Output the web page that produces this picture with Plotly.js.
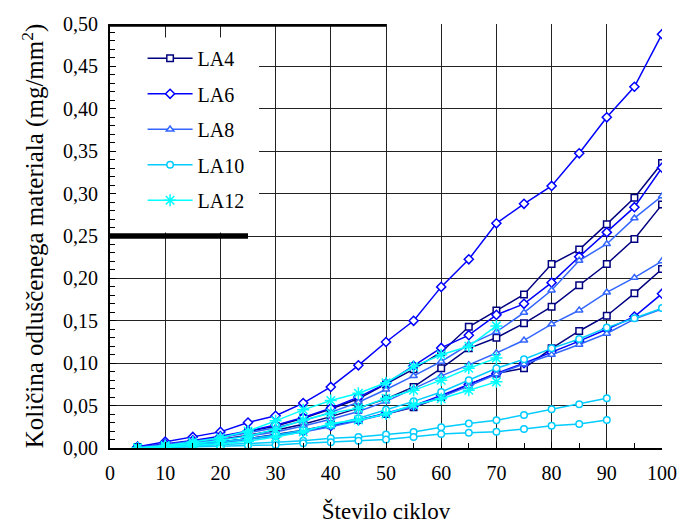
<!DOCTYPE html>
<html>
<head>
<meta charset="utf-8">
<script src="https://cdn.plot.ly/plotly-3.0.1.min.js"></script>
<style>html,body{margin:0;padding:0;background:#fff;}#chart{width:681px;height:524px;}</style>
</head>
<body>
<div id="chart"></div>
<script>
// cycles (x values)
const cycles = [5,10,15,20,25,30,35,40,45,50,55,60,65,70,75,80,85,90,95,100];
const cycles90 = cycles.slice(0,18);
const cycles70 = cycles.slice(0,14);

// LA4 (three specimens)
const LA4a = [0.001,0.004,0.008,0.013,0.019,0.026,0.035,0.046,0.058,0.075,0.093,0.113,0.143,0.162,0.181,0.217,0.234,0.264,0.295,0.336];
const LA4b = [0.0005,0.003,0.006,0.010,0.015,0.021,0.028,0.037,0.047,0.058,0.072,0.094,0.1175,0.130,0.147,0.1667,0.192,0.217,0.2465,0.287];
const LA4c = [0.0,0.002,0.004,0.007,0.011,0.016,0.021,0.027,0.033,0.040,0.048,0.060,0.075,0.088,0.094,0.1175,0.138,0.156,0.1824,0.211];
// LA6
const LA6a = [0.0015,0.0075,0.013,0.019,0.030,0.038,0.053,0.072,0.0975,0.125,0.150,0.190,0.2225,0.265,0.288,0.309,0.3475,0.390,0.426,0.488];
const LA6b = [0.001,0.005,0.009,0.014,0.020,0.027,0.036,0.047,0.060,0.076,0.097,0.118,0.133,0.157,0.170,0.195,0.2256,0.2543,0.284,0.3306];
const LA6c = [0.0,0.002,0.004,0.007,0.011,0.015,0.020,0.026,0.033,0.041,0.050,0.062,0.075,0.088,0.100,0.113,0.126,0.140,0.155,0.182];
// LA8
const LA8a = [0.001,0.004,0.008,0.012,0.018,0.024,0.032,0.042,0.054,0.069,0.085,0.102,0.122,0.137,0.1596,0.186,0.221,0.2406,0.271,0.297];
const LA8b = [0.0005,0.003,0.006,0.010,0.014,0.019,0.026,0.034,0.043,0.055,0.070,0.085,0.098,0.112,0.127,0.146,0.1624,0.1836,0.2008,0.2205];
const LA8c = [0.0,0.002,0.004,0.006,0.010,0.014,0.019,0.025,0.032,0.040,0.049,0.060,0.073,0.087,0.099,0.110,0.122,0.135,0.152,0.164];
// LA10
const LA10a = [0.0,0.002,0.004,0.007,0.011,0.015,0.021,0.027,0.035,0.045,0.055,0.066,0.080,0.094,0.1046,0.1175,0.1285,0.142,0.153,0.165];
const LA10b = [0.0,0.001,0.002,0.004,0.005,0.0067,0.0086,0.0114,0.013,0.016,0.019,0.0244,0.029,0.0326,0.0389,0.0456,0.0515,0.0586];
const LA10c = [0.0,0.0005,0.001,0.002,0.003,0.0035,0.0055,0.0067,0.0086,0.010,0.013,0.0165,0.018,0.0193,0.0224,0.0263,0.0283,0.033];
// LA12
const LA12a = [0.0,0.003,0.007,0.012,0.020,0.032,0.045,0.056,0.0645,0.077,0.096,0.110,0.120,0.144];
const LA12b = [0.0,0.002,0.005,0.009,0.014,0.022,0.033,0.041,0.047,0.0586,0.068,0.080,0.094,0.106];
const LA12c = [0.0,0.001,0.003,0.005,0.008,0.013,0.019,0.029,0.033,0.040,0.051,0.058,0.068,0.078];

const groups = [
  {name:'LA4', color:'#000080', symbol:'square', sets:[[cycles,LA4a],[cycles,LA4b],[cycles,LA4c]]},
  {name:'LA6', color:'#0000FF', symbol:'diamond', sets:[[cycles,LA6a],[cycles,LA6b],[cycles,LA6c]]},
  {name:'LA8', color:'#3366FF', symbol:'triangle-up', sets:[[cycles,LA8a],[cycles,LA8b],[cycles,LA8c]]},
  {name:'LA10', color:'#00CCFF', symbol:'circle', sets:[[cycles,LA10a],[cycles90,LA10b],[cycles90,LA10c]]},
  {name:'LA12', color:'#00FFFF', symbol:'asterisk-open', sets:[[cycles70,LA12a],[cycles70,LA12b],[cycles70,LA12c]]}
];

const FONT = '"Liberation Serif", "Times New Roman", Times, serif';
const traces = [];
groups.forEach(g => {
  g.sets.forEach((s, i) => {
    const isAst = g.symbol === 'asterisk-open';
    traces.push({
      type:'scatter', mode:'lines+markers',
      x:s[0], y:s[1], name:g.name, legendgroup:g.name, showlegend:i===0,
      line:{color:g.color, width:1.5},
      marker:{symbol:g.symbol, size:isAst?10:(g.symbol==='diamond'?7:6.5),
              color:isAst?g.color:'#ffffff',
              line:{color:g.color, width:1.5}}
    });
  });
});

const layout = {
  width:681, height:524,
  margin:{l:110, r:19, t:24, b:76},
  paper_bgcolor:'#fff', plot_bgcolor:'#fff',
  separators:',.',
  font:{family:FONT, color:'#000', size:20},
  showlegend:true,
  legend:{x:0.059, y:0.965, xanchor:'left', yanchor:'top', bgcolor:'#fff', borderwidth:0,
          font:{family:FONT, size:20}, traceorder:'grouped', tracegroupgap:6.5, itemwidth:45},
  xaxis:{range:[0,100], dtick:10, tick0:0, ticks:'inside', ticklen:6, tickcolor:'#000',
         showgrid:true, gridcolor:'#222', gridwidth:1, zeroline:false,
         showline:true, linecolor:'#000', linewidth:2,
         minor:{dtick:5, ticks:'inside', ticklen:5, tickcolor:'#000', showgrid:false},
         tickfont:{family:FONT, size:20}, ticklabelstandoff:6,
         title:{text:'Število ciklov', font:{family:FONT, size:23}, standoff:21}},
  yaxis:{range:[0,0.5], dtick:0.05, tick0:0, tickformat:'.2f', ticks:'inside', ticklen:6, tickcolor:'#000',
         showgrid:true, gridcolor:'#222', gridwidth:1, zeroline:false,
         showline:true, linecolor:'#000', linewidth:2,
         minor:{dtick:0.01, ticks:'inside', ticklen:5, tickcolor:'#000', showgrid:false},
         tickfont:{family:FONT, size:20}, ticklabelstandoff:6,
         title:{text:'Količina odluščenega materiala (mg/mm<sup>2</sup>)', font:{family:FONT, size:25}, standoff:12}},
  shapes:[
    {type:'rect', xref:'x', yref:'y', x0:0.3, x1:27, y0:0.254, y1:0.484, fillcolor:'#fff', line:{width:0}, layer:'between'},
    {type:'line', xref:'x', yref:'y', x0:0, x1:50, y0:0.5, y1:0.5, line:{color:'#000', width:5.5}, layer:'above'},
    {type:'line', xref:'x', yref:'y', x0:0, x1:25, y0:0.25, y1:0.25, line:{color:'#000', width:5.5}, layer:'above'}
  ]
};

Plotly.newPlot('chart', traces, layout, {displayModeBar:false, staticPlot:true});
</script>
</body>
</html>
